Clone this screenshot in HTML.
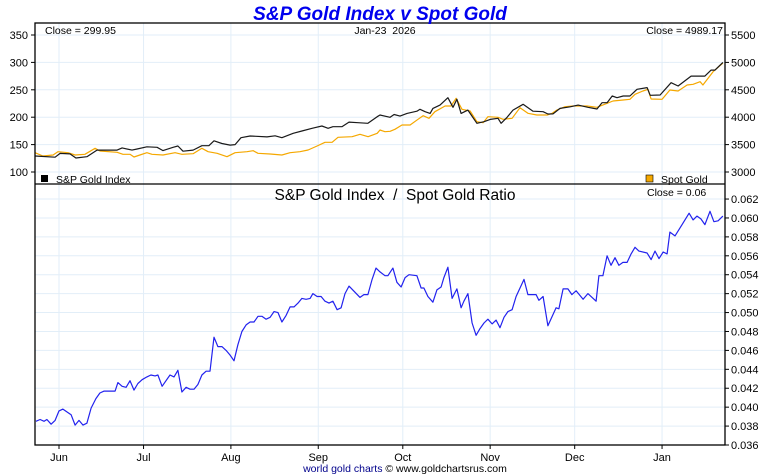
<!DOCTYPE html>
<html><head><meta charset="utf-8"><style>
body{margin:0;background:#fff;}
svg{display:block;font-family:"Liberation Sans",sans-serif;}
</style></head><body>
<svg id="c" width="760" height="475" xmlns="http://www.w3.org/2000/svg"></svg>
<script>
const ratioDays=[-8.2,-6.7,-5.3,-4.3,-2.8,-1.4,0,1.4,2.8,4.3,5.7,7.1,8.5,9.9,11.4,13.1,14.5,16,19.9,20.9,22.4,23.8,25.2,26.6,28,29.5,31.2,32.6,34.1,35.1,36.6,39.4,40.8,42.2,43.6,45.1,46.5,47.9,49.3,50.7,52.2,53.6,55,56.4,57.8,59.3,60.7,62.1,63.5,64.9,66.4,67.8,69.2,70.6,72,73.5,74.9,76.3,77.7,79.1,80.6,82,83.4,84.8,86.2,87.7,89.1,90.1,91.6,93,94.4,95.8,97.2,98.7,100.1,101.5,102.9,106.8,108.2,109.6,111.1,112.5,113.9,115.7,116.7,118.5,119.9,121.4,122.8,124.2,127,128.5,129.5,130.9,132.7,134.1,135.6,136.6,138,139.5,141.2,142.7,143.7,145.1,146.6,148,149.4,150.8,152.2,153.7,155.1,156.5,157.9,159.3,160.8,162.2,165,166.4,169.3,170.3,171.8,173.5,176.4,177.4,178.9,180.6,182,183.5,186,187.7,190.6,191.6,193,194.5,195.9,197.3,198.7,200.1,201.6,203,204.4,205.8,208.7,210.1,211.5,212.9,214.4,215.8,216.8,218.6,221.1,223.6,225,226.4,227.8,229.2,231,232.4,233.9,235.6];
const ratioVals=[0.0385,0.0387,0.0385,0.0387,0.0382,0.0386,0.0396,0.0398,0.0395,0.0392,0.0381,0.0386,0.0381,0.0383,0.0399,0.0409,0.0415,0.0417,0.0417,0.0426,0.0422,0.0421,0.0428,0.0418,0.0425,0.0429,0.0432,0.0434,0.0433,0.0434,0.0422,0.0434,0.0432,0.0439,0.0416,0.0421,0.0419,0.0419,0.0424,0.0434,0.0438,0.0438,0.0474,0.0464,0.0464,0.0460,0.0455,0.0449,0.0466,0.0480,0.0487,0.0490,0.0490,0.0496,0.0496,0.0493,0.0495,0.0501,0.0500,0.0490,0.0497,0.0506,0.0506,0.0510,0.0515,0.0514,0.0515,0.0520,0.0517,0.0517,0.0512,0.0510,0.0512,0.0503,0.0505,0.0520,0.0528,0.0516,0.0519,0.0519,0.0535,0.0547,0.0543,0.0539,0.0539,0.0547,0.0532,0.0527,0.0537,0.0540,0.0539,0.0526,0.0526,0.0517,0.0511,0.0524,0.0527,0.0537,0.0548,0.0515,0.0525,0.0505,0.0512,0.0520,0.0489,0.0476,0.0483,0.0489,0.0493,0.0488,0.0492,0.0484,0.0495,0.0501,0.0503,0.0517,0.0535,0.0519,0.0519,0.0513,0.0517,0.0486,0.0505,0.0504,0.0525,0.0525,0.0519,0.0523,0.0514,0.0520,0.0512,0.0539,0.0539,0.0560,0.0550,0.0558,0.0550,0.0553,0.0553,0.0562,0.0569,0.0565,0.0563,0.0556,0.0565,0.0557,0.0564,0.0562,0.0585,0.0581,0.0593,0.0605,0.0598,0.0602,0.0599,0.0593,0.0607,0.0596,0.0597,0.0602];
const idxDays=[-8.5,-1.4,0.4,3.9,6,9.9,13.5,20.6,22.4,25.9,27.7,31.2,34.8,36.9,40.5,42.2,44,47.6,50.7,53.2,55,57.8,60.7,62.5,64.6,67.8,73.8,76.7,79.1,83.1,86.2,89.8,93.3,95.5,97.2,100.4,102.9,106.1,109.6,112.9,113.9,117.5,118.9,121,123.5,127,128.1,129.9,131.7,132.7,135.2,138,139.8,141.2,142.7,145.1,148.3,150.8,153,155.8,156.9,159,161.1,164.7,168.2,171.8,173.5,175.3,177.8,181.4,184.2,187.7,190.9,192.7,194.5,196.3,198,200.2,202.6,205.1,208.7,209.8,213.3,217.2,219.7,224.3,229.2,231.4,232.8,235.6];
const idxVals=[129.2,127,134,133,125.6,128,140,140,144,140,142,146,145,139,145,147.4,138,140,148,148,157,152,149,150,162.6,165.7,164,166,162.6,170.6,174.8,179.7,184,179.7,182.7,182.7,191,190,188.9,200.9,204,199.8,205,202,207,211,214.4,210,207,216,222,235.6,218,232.7,207,213,188.9,191.8,196,198,188.9,199.8,213,223.5,211,210,205.8,206,216,219,222,218,215,226.5,226.5,238.7,235.6,238.7,238.7,251,254,240,240.5,263,257,275,275,286,286,299.95];
const goldDays=[-8.5,-5.7,-2.1,-0.4,3.2,5.7,9.2,12.8,14.5,20.6,22.7,25.2,26.6,28.7,31.2,33,36.9,41.2,43.6,47.6,50.7,52.9,56.1,59.6,62.5,66.7,68.9,70.6,74.9,79.1,82,85.5,88.4,91.6,94.4,96.9,99,104,106.8,109.7,112.9,113.9,115.7,117.5,119.2,121.7,124.6,127.4,129.2,131.3,133.4,137,139.1,140.9,143,145.9,148.3,150.5,152.2,155.8,157.6,160.8,163.6,166.4,169.6,173.2,175,176.7,179.6,182.4,187.4,190.9,194.5,196.6,200.2,202.6,204.4,207.2,209,210.1,214,216.8,219.7,222.9,225,227.5,228.5,232.1,235.6];
const goldVals=[3352,3292,3310,3371,3352,3310,3323,3433,3383,3359,3323,3323,3273,3310,3352,3323,3310,3352,3323,3334,3433,3371,3341,3280,3352,3371,3389,3341,3328,3310,3352,3371,3401,3474,3542,3542,3633,3645,3688,3645,3706,3766,3736,3742,3780,3858,3858,3961,4027,3980,4100,4204,4204,4345,4144,4113,3918,3900,4010,3998,3961,3980,4173,4071,4040,4040,4071,4131,4192,4204,4204,4181,4254,4296,4314,4327,4418,4478,4509,4332,4327,4496,4478,4588,4600,4648,4588,4830,4989.17];
const months=["Jun","Jul","Aug","Sep","Oct","Nov","Dec","Jan"];
const monthDays=[0,30,61,92,122,153,183,214];
const leftTicks=[100,150,200,250,300,350];
const rightTicks=[3000,3500,4000,4500,5000,5500];
const ratioTicks=[0.036,0.038,0.040,0.042,0.044,0.046,0.048,0.050,0.052,0.054,0.056,0.058,0.060,0.062];

const L=35,R=725,T1=23,B1=184,B2=445;
const X=d=>59+d*2.818;
const YL=v=>35+(350-v)*0.548;
const YR=v=>35+(5500-v)*0.0548;
const YB=v=>445-(v-0.036)*9460;
const svg=document.getElementById('c');
const NS='http://www.w3.org/2000/svg';
function mk(tag,attrs,txt){const e=document.createElementNS(NS,tag);for(const k in attrs)e.setAttribute(k,attrs[k]);if(txt!==undefined)e.textContent=txt;svg.appendChild(e);return e;}

monthDays.forEach((d,i)=>{
  const g=mk('line',{x1:X(d),x2:X(d),y1:T1,y2:B2,stroke:'#e2eef8','stroke-width':1});
  
  
  const t=mk('text',{x:X(d),y:461,'font-size':11,'text-anchor':'middle',fill:'#000'},months[i]);
  
  
  const tk=mk('line',{x1:X(d),x2:X(d),y1:B2,y2:B2+4,stroke:'#000'});
  
  
});
leftTicks.forEach(v=>{
  const g=mk('line',{x1:L,x2:R,y1:YL(v),y2:YL(v),stroke:'#e2eef8'});
  
  
  const t=mk('text',{x:28,y:YL(v)+4,'font-size':11,'text-anchor':'end'},v);
  
  
  const tk=mk('line',{x1:L-4,x2:L,y1:YL(v),y2:YL(v),stroke:'#000'});
  
  
});
rightTicks.forEach(v=>{
  const t=mk('text',{x:731,y:YR(v)+4,'font-size':11},v);
  
  
  const tk=mk('line',{x1:R,x2:R+4,y1:YR(v),y2:YR(v),stroke:'#000'});
  
  
});
ratioTicks.forEach(v=>{
  const g=mk('line',{x1:L,x2:R,y1:YB(v),y2:YB(v),stroke:'#e2eef8'});
  
  
  const t=mk('text',{x:731,y:YB(v)+4,'font-size':11},v.toFixed(3));
  
  
  const tk=mk('line',{x1:R,x2:R+4,y1:YB(v),y2:YB(v),stroke:'#000'});
  
  
});

function line(days,vals,fy,col,name){
  const p=days.map((d,i)=>X(d).toFixed(1)+','+fy(vals[i]).toFixed(1)).join(' ');
  const e=mk('polyline',{points:p,fill:'none',stroke:col,'stroke-width':1.2,'stroke-linejoin':'round'});
  
  
}
line(goldDays,goldVals,YR,'#f5a800','spot-gold-line');
line(idxDays,idxVals,YL,'#1a1a1a','sp-gold-index-line');
line(ratioDays,ratioVals,YB,'#2222ee','ratio-line');

let f=mk('rect',{x:L,y:T1,width:R-L,height:B2-T1,fill:'none',stroke:'#000','stroke-width':1.3});

f=mk('line',{x1:L,x2:R,y1:B1,y2:B1,stroke:'#000','stroke-width':1.3});

</script>
<svg width="760" height="475" style="position:absolute;left:0;top:0" xmlns="http://www.w3.org/2000/svg" font-family="Liberation Sans, sans-serif">
<text x="380" y="20" font-size="19" font-weight="bold" font-style="italic" fill="#0000ee" text-anchor="middle">S&amp;P Gold Index v Spot Gold</text>
<text x="45" y="34" font-size="10.5">Close = 299.95</text>
<text x="385" y="34" font-size="10.5" text-anchor="middle">Jan-23&#160; 2026</text>
<text x="723" y="34" font-size="10.5" text-anchor="end">Close = 4989.17</text>
<rect x="41" y="175" width="7" height="7" fill="#000"/>
<text x="56" y="183" font-size="10.5">S&amp;P Gold Index</text>
<rect x="646" y="175" width="7" height="7" fill="#f5a800" stroke="#000" stroke-width="0.6"/>
<text x="661" y="183" font-size="10.5">Spot Gold</text>
<text x="395" y="200" font-size="15.5" text-anchor="middle">S&amp;P Gold Index&#160; /&#160; Spot Gold Ratio</text>
<text x="647" y="196" font-size="10.5">Close = 0.06</text>
<text x="405" y="472" font-size="10.5" text-anchor="middle"><tspan fill="#00008b">world gold charts</tspan> © www.goldchartsrus.com</text>
</svg>
</body></html>
